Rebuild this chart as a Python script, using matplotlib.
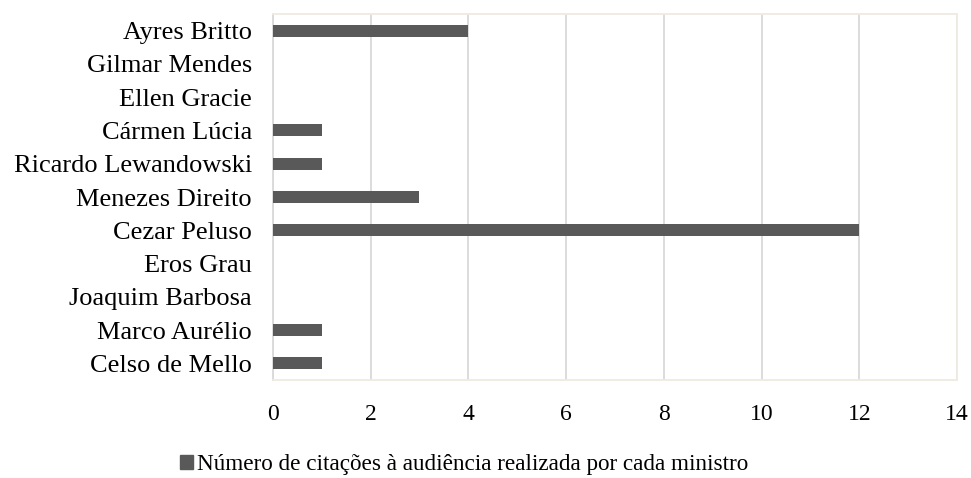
import matplotlib.pyplot as plt
from matplotlib.patches import Patch

plt.rcParams['font.family'] = ['Liberation Serif', 'DejaVu Serif']

ministros = ['Celso de Mello', 'Marco Aurélio', 'Joaquim Barbosa', 'Eros Grau',
             'Cezar Peluso', 'Menezes Direito', 'Ricardo Lewandowski',
             'Cármen Lúcia', 'Ellen Gracie', 'Gilmar Mendes', 'Ayres Britto']
citacoes = [1, 1, 0, 0, 12, 3, 1, 1, 0, 0, 4]
legenda = 'Número de citações à audiência realizada por cada ministro'

fig = plt.figure(figsize=(9.71, 4.78), dpi=100)
ax = fig.add_axes([0.281, 0.205, 0.7046, 0.7657])

ax.barh(range(len(ministros)), citacoes, height=0.36, color='#595959', zorder=3)
ax.set_ylim(-0.5, len(ministros) - 0.5)
ax.set_xlim(0, 14)
ax.set_xticks(range(0, 15, 2))
ax.set_yticks(range(len(ministros)))
ax.set_yticklabels(ministros, fontsize=19)
ax.set_xticklabels([str(v) for v in range(0, 15, 2)], fontsize=17)
ax.tick_params(axis='both', length=0, colors='black')
ax.tick_params(axis='x', pad=17)
ax.tick_params(axis='y', pad=15)
ax.grid(axis='x', color='#d9d9d9', linewidth=1.3, zorder=0)
for s in ax.spines.values():
    s.set_color('#efebe1')
    s.set_linewidth(1.3)
ax.spines['left'].set_color('#d9d9d9')

fig.legend(handles=[Patch(color='#595959', label=legenda)], loc='center',
           bbox_to_anchor=(0.478, 0.028), frameon=False, fontsize=16.7,
           handlelength=0.55, handleheight=0.55, handletextpad=0.2)

fig.savefig('out.png', dpi=100)
